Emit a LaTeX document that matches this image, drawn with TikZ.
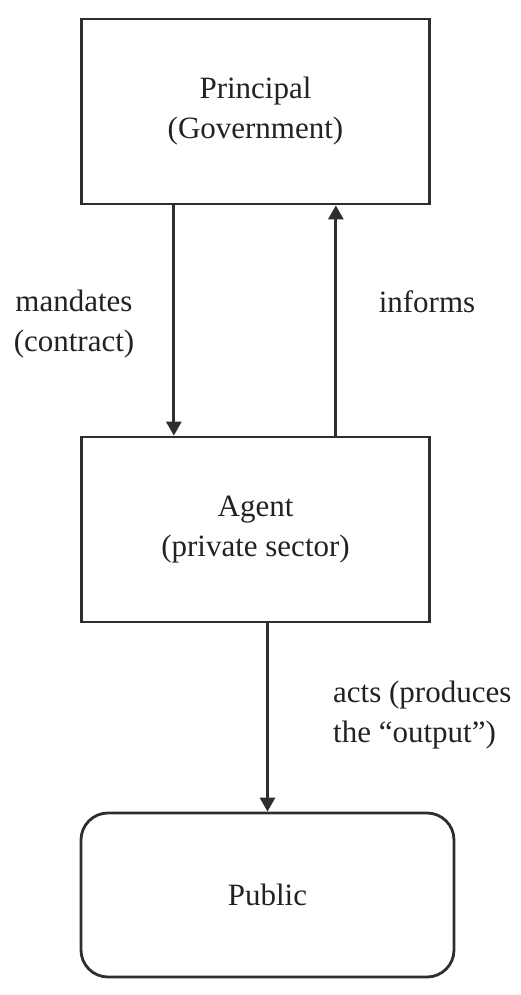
\documentclass[tikz,border=0pt]{standalone}
\usepackage{fontspec}
\setmainfont{Liberation Serif}
\usetikzlibrary{arrows.meta}
\definecolor{ink}{HTML}{2E2E2E}
\definecolor{txt}{HTML}{222222}
\begin{document}
\begin{tikzpicture}[x=1pt,y=-1pt,
  box/.style={draw=ink, line width=2.8pt, inner sep=0pt, align=center,
    minimum width=347.5pt, text=txt, font=\fontsize{31}{40}\selectfont},
  lbl/.style={text=txt, inner sep=0pt, font=\fontsize{31}{40}\selectfont},
  arr/.style={draw=ink, line width=2.8pt, -{Triangle[width=15pt,length=14pt]}}]
\useasboundingbox (0,0) rectangle (520,995);
\node[box, minimum height=185pt] (P) at (255.5,111.5) {Principal\\(Government)};
\node[box, minimum height=185pt] (A) at (255.5,529.5) {Agent\\(private sector)};
\node[box, minimum width=373pt, minimum height=164pt, rounded corners=27pt] (U) at (267.5,895) {Public};
\draw[arr] ([xshift=93.5pt]P.south west) -- ([xshift=93.5pt]A.north west);
\draw[arr] ([xshift=255.5pt]A.north west) -- ([xshift=255.5pt]P.south west);
\draw[arr] (A.south -| U.north) -- (U.north);
\node[lbl, align=center] (m) at (74,324) {mandates\\(contract)};
\node[lbl, anchor=base] (i) at (427,312) {informs};
\node[lbl, align=left, anchor=west] (c) at (333,715) {acts (produces\\the “output”)};
\end{tikzpicture}
\end{document}
